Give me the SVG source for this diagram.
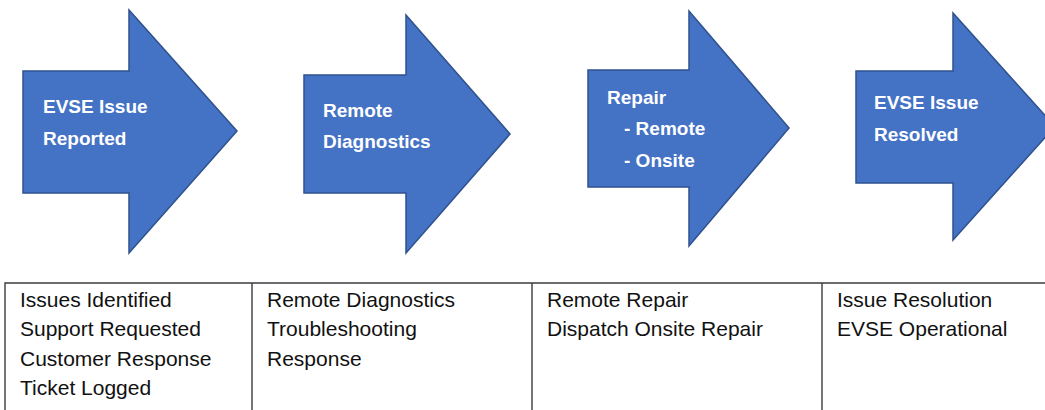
<svg xmlns="http://www.w3.org/2000/svg" width="1045" height="410" viewBox="0 0 1045 410">
<style>
.arrow{fill:#4472C4;stroke:#2F528F;stroke-width:1.5;stroke-linejoin:miter}
.head{font-family:"Liberation Sans",Arial,sans-serif;font-weight:bold;font-size:19px;fill:#ffffff}
.cell{font-family:"Liberation Sans",Arial,sans-serif;font-size:21px;fill:#111111}
.grid{stroke:#3c3c3c;stroke-width:1.4;fill:none}
</style>
<rect width="1045" height="410" fill="#ffffff"/>
<g id="step1">
<polygon class="arrow" points="23,71 129,71 129,10 237,131 129,253 129,193 23,193"/>
<text class="head" x="43" y="113">EVSE Issue</text>
<text class="head" x="43" y="145">Reported</text>
</g>
<g id="step2">
<polygon class="arrow" points="304,75 406,75 406,15 510,134 406,253 406,193 304,193"/>
<text class="head" x="323" y="117">Remote</text>
<text class="head" x="323" y="148">Diagnostics</text>
</g>
<g id="step3">
<polygon class="arrow" points="588,70 689,70 689,11 789,128 689,246 689,187 588,187"/>
<text class="head" x="607" y="104">Repair</text>
<text class="head" x="624" y="135">- Remote</text>
<text class="head" x="624" y="167">- Onsite</text>
</g>
<g id="step4">
<polygon class="arrow" points="856,71 953,71 953,13 1055,126.5 953,240 953,183 856,183"/>
<text class="head" x="874" y="109">EVSE Issue</text>
<text class="head" x="874" y="141">Resolved</text>
</g>
<g id="table">
<path class="grid" d="M5,412 V283 H1047 M252,283 V412 M532,283 V412 M822,283 V412"/>
</g>
<g id="cell1">
<text class="cell" x="20" y="307">Issues Identified</text>
<text class="cell" x="20" y="336">Support Requested</text>
<text class="cell" x="20" y="366">Customer Response</text>
<text class="cell" x="20" y="395">Ticket Logged</text>
</g>
<g id="cell2">
<text class="cell" x="267" y="307">Remote Diagnostics</text>
<text class="cell" x="267" y="336">Troubleshooting</text>
<text class="cell" x="267" y="366">Response</text>
</g>
<g id="cell3">
<text class="cell" x="547" y="307">Remote Repair</text>
<text class="cell" x="547" y="336">Dispatch Onsite Repair</text>
</g>
<g id="cell4">
<text class="cell" x="837" y="307">Issue Resolution</text>
<text class="cell" x="837" y="336">EVSE Operational</text>
</g>
</svg>
